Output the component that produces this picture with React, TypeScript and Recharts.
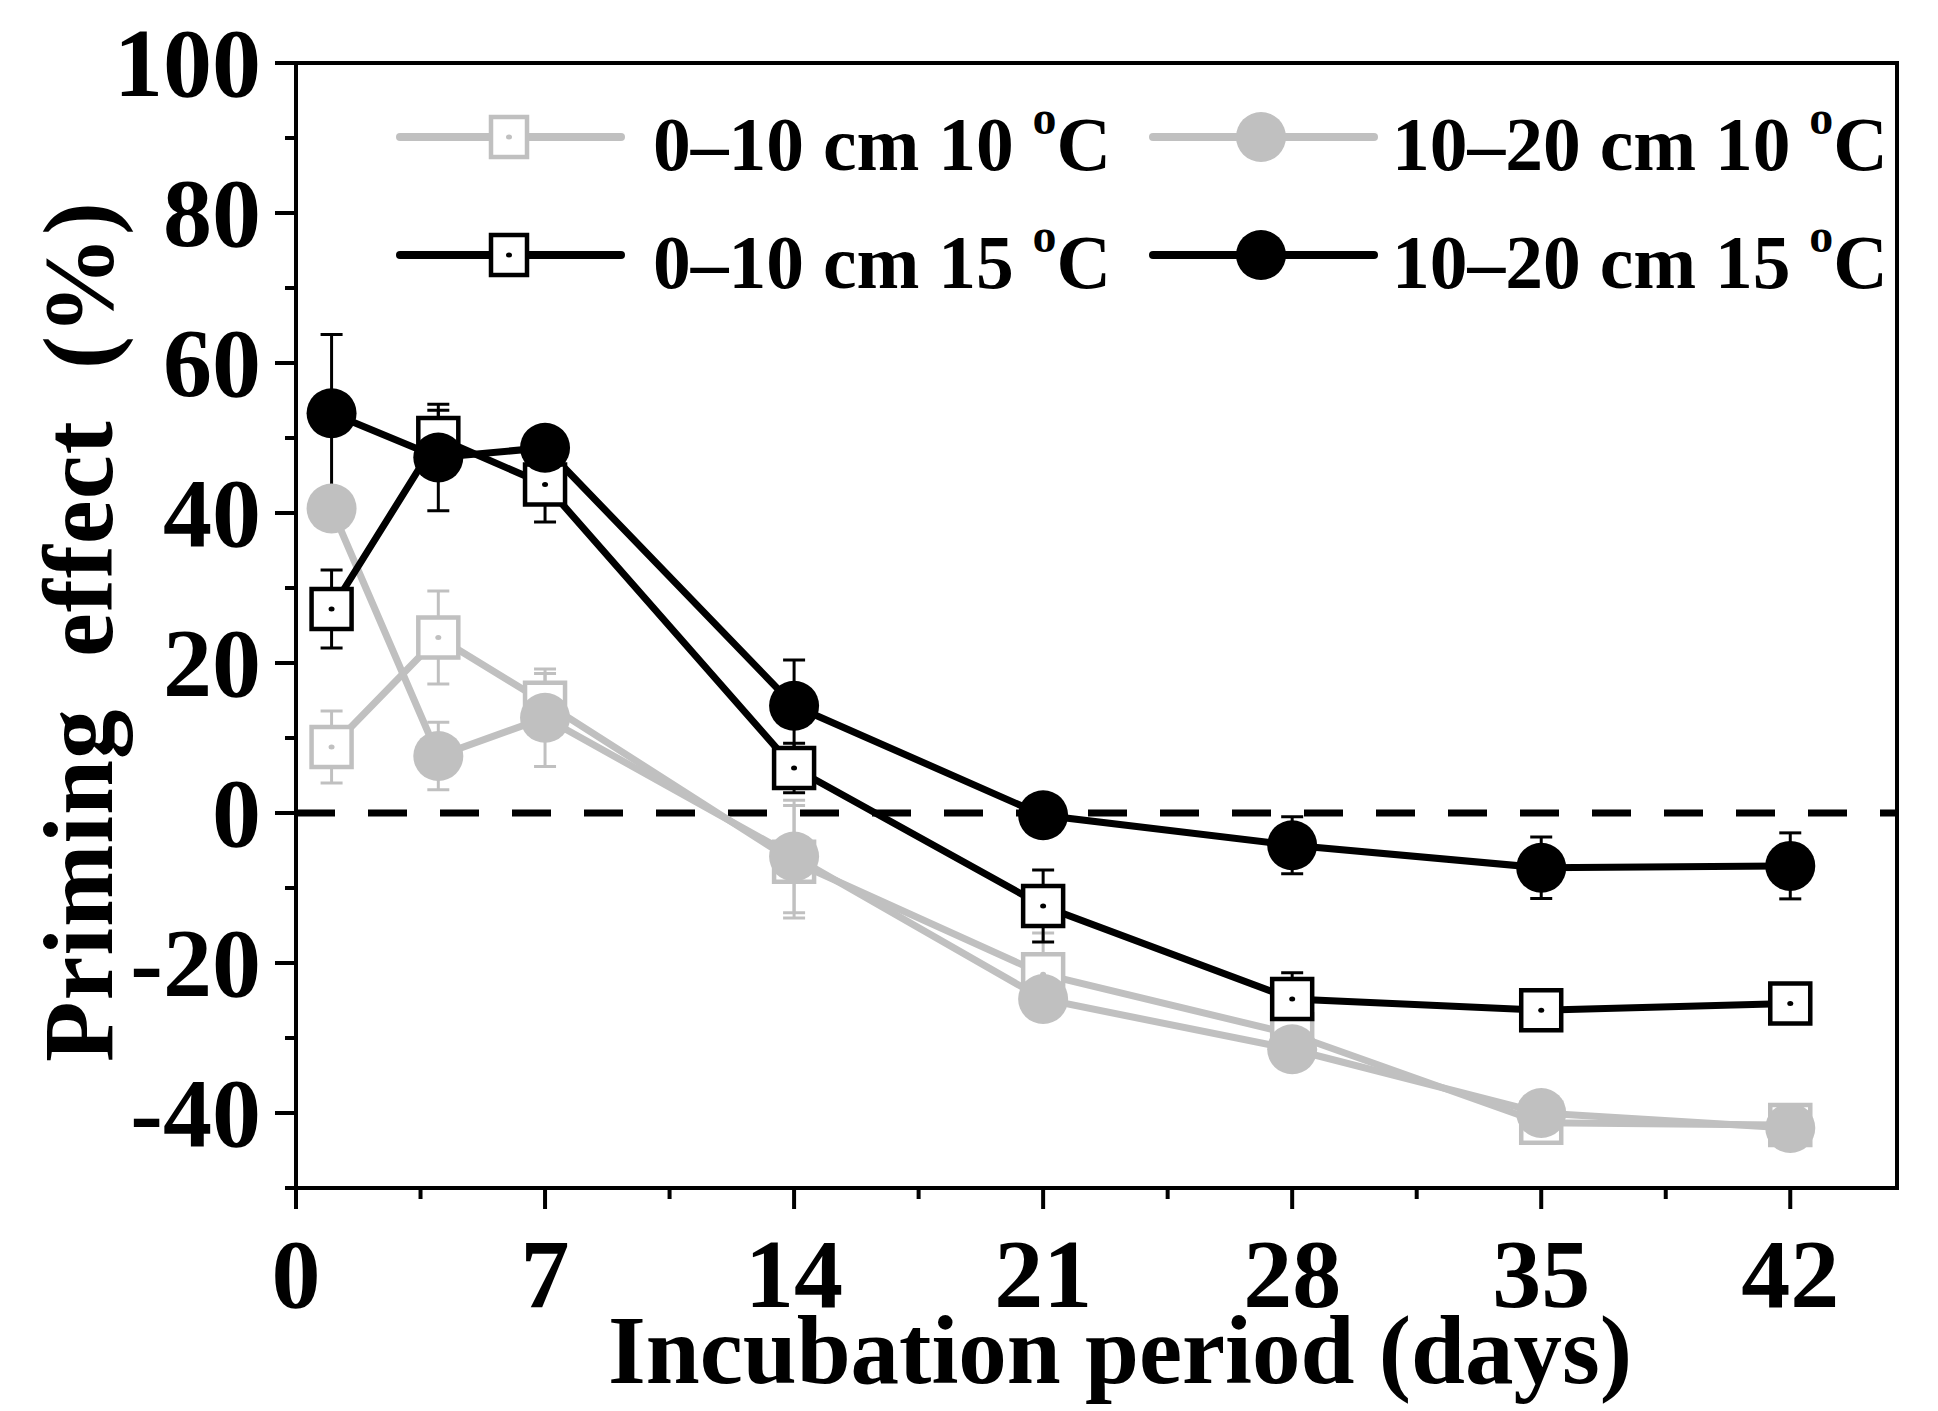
import React from 'react';
import { LineChart, Line, XAxis, YAxis, ErrorBar, ReferenceLine, ReferenceArea } from 'recharts';

const days = [1, 4, 7, 14, 21, 28, 35, 42];
const grey010 = [8.8, 23.4, 14.7, -6.5, -21.5, -29.5, -41.3, -41.6];
const grey010Err = [4.8, 6.2, 3.9, 7.5, 5.5, 4.2, 1.5, 1.5];
const grey1020 = [40.6, 7.6, 12.7, -5.8, -24.8, -31.5, -40.0, -42.0];
const grey1020Err = [2.5, 4.5, 6.5, 7.5, 2.5, 2.0, 1.5, 1.5];
const black010 = [27.2, 50.0, 43.8, 6.0, -12.4, -24.8, -26.3, -25.4];
const black010Err = [5.2, 3.7, 5.0, 3.3, 4.8, 3.5, 1.5, 1.5];
const black1020 = [53.3, 47.4, 48.7, 14.3, -0.3, -4.3, -7.3, -7.05];
const black1020Err = [10.5, 7.1, 2.5, 6.1, 2.0, 3.8, 4.1, 4.4];

const xTicks = [0, 3.5, 7, 10.5, 14, 17.5, 21, 24.5, 28, 31.5, 35, 38.5, 42];
const xLabelTicks = [0, 7, 14, 21, 28, 35, 42];
const yTicks = [-50, -40, -30, -20, -10, 0, 10, 20, 30, 40, 50, 60, 70, 80, 90, 100];
const yLabelTicks = [-40, -20, 0, 20, 40, 60, 80, 100];

const GREY = '#C0C0C0';
const BLACK = '#000000';
const FONT = "'Liberation Serif', 'Times New Roman', Times, serif";

const data = days.map((d, i) => ({
  day: d,
  a: grey010[i],
  aErr: grey010Err[i],
  b: grey1020[i],
  bErr: grey1020Err[i],
  c: black010[i],
  cErr: black010Err[i],
  d: black1020[i],
  dErr: black1020Err[i],
}));

const makeSquare = (color: string) => (props: any) => {
  const { cx, cy, index } = props;
  if (cx == null || cy == null) return <g key={`s${index}`} />;
  return (
    <g key={`s${color}${index}`}>
      <rect x={cx - 20} y={cy - 20} width={40} height={40} fill="#fff" stroke={color} strokeWidth={4.5} />
      <ellipse cx={cx} cy={cy} rx={3} ry={2.5} fill={color} />
    </g>
  );
};

const makeCircle = (color: string) => (props: any) => {
  const { cx, cy, index } = props;
  if (cx == null || cy == null) return <g key={`c${index}`} />;
  return <circle key={`c${color}${index}`} cx={cx} cy={cy} r={25} fill={color} />;
};

const XTick = (props: any) => {
  const { x, y, payload } = props;
  const v = payload.value;
  const major = xLabelTicks.includes(v);
  return (
    <g>
      <line x1={x} x2={x} y1={y} y2={y + (major ? 21 : 11)} stroke="#000" strokeWidth={4} />
      {major && (
        <text x={x} y={y + 119} textAnchor="middle" fontFamily={FONT} fontWeight="bold" fontSize={98} fill="#000">
          {v}
        </text>
      )}
    </g>
  );
};

const YTick = (props: any) => {
  const { x, y, payload } = props;
  const v = payload.value;
  const major = yLabelTicks.includes(v);
  return (
    <g>
      <line x1={x - (major ? 21 : 11)} x2={x} y1={y} y2={y} stroke="#000" strokeWidth={4} />
      {major && (
        <text x={x - 35} y={y + 33} textAnchor="end" fontFamily={FONT} fontWeight="bold" fontSize={98} fill="#000">
          {String(v)}
        </text>
      )}
    </g>
  );
};

const LegendItem = ({ x1, x2, mx, tx, y, color, shape, label, temp }: any) => (
  <g>
    <line x1={x1} x2={x2} y1={y} y2={y} stroke={color} strokeWidth={8} strokeLinecap="round" />
    {shape === 'square' ? (
      <g>
        <rect x={mx - 18} y={y - 20} width={36} height={40} fill="#fff" stroke={color} strokeWidth={4.5} />
        <ellipse cx={mx} cy={y} rx={3} ry={2.5} fill={color} />
      </g>
    ) : (
      <circle cx={mx} cy={y} r={25} fill={color} />
    )}
    <text x={tx} y={y + 33} fontFamily={FONT} fontWeight="bold" fontSize={75.5} fill="#000">
      {label} {temp}{' '}
      <tspan fontSize={48} dy={-36}>o</tspan>
      <tspan fontSize={75.5} dy={36}>C</tspan>
    </text>
  </g>
);

export default function App() {
  return (
    <div style={{ position: 'absolute', left: 0, top: 0, width: 1938, height: 1411, background: '#fff' }}>
      <LineChart
        width={1938}
        height={1411}
        data={data}
        margin={{ top: 63, right: 41, bottom: 123, left: 196 }}
      >
        <ReferenceLine y={0} stroke="#000" strokeWidth={7} strokeDasharray="39 33" />
        <XAxis
          dataKey="day"
          type="number"
          domain={[0, 45]}
          ticks={xTicks}
          interval={0}
          height={100}
          tickSize={0}
          tickMargin={0}
          tickLine={false}
          axisLine={{ stroke: '#000', strokeWidth: 4 }}
          tick={<XTick />}
          label={{
            content: () => (
              <text x={1120} y={1383} textAnchor="middle" fontFamily={FONT} fontWeight="bold" fontSize={97} fill="#000">
                Incubation period (days)
              </text>
            ),
          }}
        />
        <YAxis
          type="number"
          domain={[-50, 100]}
          ticks={yTicks}
          interval={0}
          width={100}
          tickSize={0}
          tickMargin={0}
          tickLine={false}
          axisLine={{ stroke: '#000', strokeWidth: 4 }}
          tick={<YTick />}
          label={{
            content: () => (
              <text
                x={0}
                y={0}
                transform="translate(112,632) rotate(-90)"
                textAnchor="middle"
                fontFamily={FONT}
                fontWeight="bold"
                fontSize={99}
                textLength={860}
                lengthAdjust="spacing"
                fill="#000"
              >
                {'Priming\u00A0\u00A0effect\u00A0\u00A0(%)'}
              </text>
            ),
          }}
        />
        <ReferenceArea x1={0} x2={45} y1={-50} y2={100} fill="none" fillOpacity={0} stroke="#000" strokeWidth={4} />
        <Line
          dataKey="a"
          type="linear"
          stroke={GREY}
          strokeWidth={7}
          dot={makeSquare(GREY)}
          activeDot={false}
          isAnimationActive={false}
        >
          <ErrorBar dataKey="aErr" width={11} strokeWidth={3} stroke={GREY} direction="y" />
        </Line>
        <Line
          dataKey="b"
          type="linear"
          stroke={GREY}
          strokeWidth={7}
          dot={makeCircle(GREY)}
          activeDot={false}
          isAnimationActive={false}
        >
          <ErrorBar dataKey="bErr" width={11} strokeWidth={3} stroke={GREY} direction="y" />
        </Line>
        <Line
          dataKey="c"
          type="linear"
          stroke={BLACK}
          strokeWidth={7}
          dot={makeSquare(BLACK)}
          activeDot={false}
          isAnimationActive={false}
        >
          <ErrorBar dataKey="cErr" width={11} strokeWidth={3} stroke={BLACK} direction="y" />
        </Line>
        <Line
          dataKey="d"
          type="linear"
          stroke={BLACK}
          strokeWidth={7}
          dot={makeCircle(BLACK)}
          activeDot={false}
          isAnimationActive={false}
        >
          <ErrorBar dataKey="dErr" width={11} strokeWidth={3} stroke={BLACK} direction="y" />
        </Line>
      </LineChart>
      <svg
        width={1938}
        height={320}
        style={{ position: 'absolute', left: 0, top: 0, pointerEvents: 'none' }}
      >
        <LegendItem x1={400} x2={621} mx={509} tx={653} y={137} color={GREY} shape="square" label={'0\u201310 cm'} temp="10" />
        <LegendItem x1={1153} x2={1374} mx={1261} tx={1392} y={137} color={GREY} shape="circle" label={'10\u201320 cm'} temp="10" />
        <LegendItem x1={400} x2={621} mx={509} tx={653} y={255} color={BLACK} shape="square" label={'0\u201310 cm'} temp="15" />
        <LegendItem x1={1153} x2={1374} mx={1261} tx={1392} y={255} color={BLACK} shape="circle" label={'10\u201320 cm'} temp="15" />
      </svg>
    </div>
  );
}
